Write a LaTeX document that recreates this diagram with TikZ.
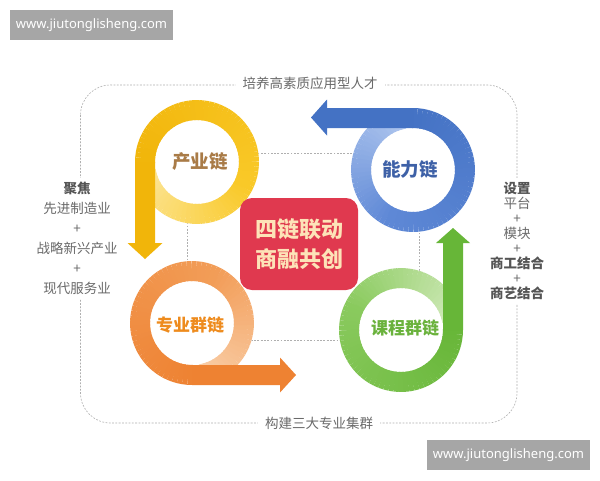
\documentclass[tikz,border=0pt]{standalone}
\usepackage{fontspec}
\setmainfont{Noto Sans CJK SC}
\newfontfamily\latinsans{Noto Sans}
\definecolor{ylight}{HTML}{FCE597}
\definecolor{ymid}{HTML}{F9C928}
\definecolor{ydark}{HTML}{F1B50A}
\definecolor{blight}{HTML}{AFC6EE}
\definecolor{bmid}{HTML}{5E88D6}
\definecolor{bdark}{HTML}{4472C4}
\definecolor{glight}{HTML}{CFE9B8}
\definecolor{gmid}{HTML}{8ACA5E}
\definecolor{gdark}{HTML}{67B638}
\definecolor{olight}{HTML}{F9CDA6}
\definecolor{omid}{HTML}{F29D58}
\definecolor{odark}{HTML}{EE8232}
\definecolor{boxred}{HTML}{E0394F}
\definecolor{boxtext}{HTML}{FDE3B8}
\definecolor{dashgray}{HTML}{AFAFAF}
\definecolor{txtgray}{HTML}{6A6A6A}
\definecolor{txtdark}{HTML}{555555}
\definecolor{wmgray}{HTML}{A6A6A6}
\definecolor{ytext}{HTML}{A97B47}
\definecolor{btext}{HTML}{3E61A7}
\definecolor{otext}{HTML}{EE8B1D}
\definecolor{gtext}{HTML}{6AB23C}
\newcommand\chainband[7]{%
  \foreach \i in {0,...,71}{%
    \pgfmathsetmacro\angA{#3+(#4-(#3))*(\i/72)}%
    \pgfmathsetmacro\angB{#3+(#4-(#3))*((\i+1)/72)-0.7}%
    \pgfmathtruncatemacro\pctv{\i<29 ? 100*\i/29 : 100*(\i-29)/43}%
    \ifnum\i<29 \colorlet{seg}{#6!\pctv!#5}\else\colorlet{seg}{#7!\pctv!#6}\fi
    \draw[seg, line width=20pt] ([shift={(#1,#2)}]\angA:52) arc[start angle=\angA, end angle=\angB, radius=52];
  }}
\begin{document}
\begin{tikzpicture}[x=1pt,y=-1pt,
  dashline/.style={draw=dashgray, line width=0.6pt, dash pattern=on 1.8pt off 1.5pt},
  sidelabel/.style={font=\fontsize{13.5}{13.5}\selectfont, text=txtgray, fill=white, inner xsep=7pt, inner ysep=2pt},
  column/.style={text=txtgray, fill=white, align=center, inner sep=4pt},
  chainlabel/.style={font=\bfseries\fontsize{18.5}{18.5}\selectfont},
  watermark/.style={fill=wmgray, text=white, font=\latinsans\fontsize{13}{13}\selectfont, minimum width=163pt, minimum height=30pt, inner sep=0pt}]
\useasboundingbox (0,0) rectangle (600,480);
\fill[white] (0,0) rectangle (600,480);
% outer frame
\draw[dashline, rounded corners=30pt] (80.5,85) rectangle (517,423);
\node[sidelabel] (top) at (310,83) {培养高素质应用型人才};
\node[sidelabel] (bottom) at (319,423) {构建三大专业集群};
\node[column, font=\fontsize{13.5}{20}\selectfont] (left) at (77,238.5)
  {{\bfseries\color{txtdark}聚焦}\\先进制造业\\+\\战略新兴产业\\+\\现代服务业};
\node[column, font=\fontsize{13.5}{15}\selectfont] (right) at (517,241)
  {{\bfseries\color{txtdark}设置}\\平台\\+\\模块\\+\\{\bfseries\color{txtdark}商工结合}\\+\\{\bfseries\color{txtdark}商艺结合}};
% inner frame
\draw[dashline] (187,153) rectangle (419,340);
\foreach \c in {(197,162),(413,170),(192,323),(401,330)} \fill[white] \c circle[radius=62];
% yellow
\chainband{197}{162}{170}{-180}{ylight}{ymid}{ydark}
\fill[ydark] (135,162) -- (135,243) -- (127.5,243) -- (145,259) -- (162.5,243) -- (155,243) -- (155,162) -- cycle;
% blue
\chainband{413}{170}{-100}{-450}{blight}{bmid}{bdark}
\fill[bdark] (413,108) -- (327,108) -- (327,99.5) -- (311,117.5) -- (327,135.5) -- (327,128) -- (413,128) -- cycle;
% green
\chainband{401}{330}{-10}{-360}{glight}{gmid}{gdark}
\fill[gdark] (443,330) -- (443,243) -- (436,243) -- (453,228) -- (470,243) -- (463,243) -- (463,330) -- cycle;
% orange
\chainband{192}{323}{80}{-270}{olight}{omid}{odark}
\fill[odark] (192,365) -- (280,365) -- (280,357.5) -- (296,375) -- (280,392.5) -- (280,385) -- (192,385) -- cycle;
% centre
\node[fill=boxred, rounded corners=12pt, minimum width=118pt, minimum height=92pt, text=boxtext,
  font=\bfseries\fontsize{22}{30}\selectfont, align=center] (core) at (299,244) {四链联动\\商融共创};
\node[chainlabel, text=ytext] (ind) at (200,162) {产业链};
\node[chainlabel, text=btext] (abl) at (410,169) {能力链};
\node[chainlabel, font=\bfseries\fontsize{17}{17}\selectfont, text=otext] (maj) at (190,325) {专业群链};
\node[chainlabel, font=\bfseries\fontsize{17}{17}\selectfont, text=gtext] (cur) at (405,328) {课程群链};
\node[watermark] (wm1) at (91.5,25) {www.jiutonglisheng.com};
\node[watermark] (wm2) at (508.5,455) {www.jiutonglisheng.com};
\end{tikzpicture}
\end{document}
